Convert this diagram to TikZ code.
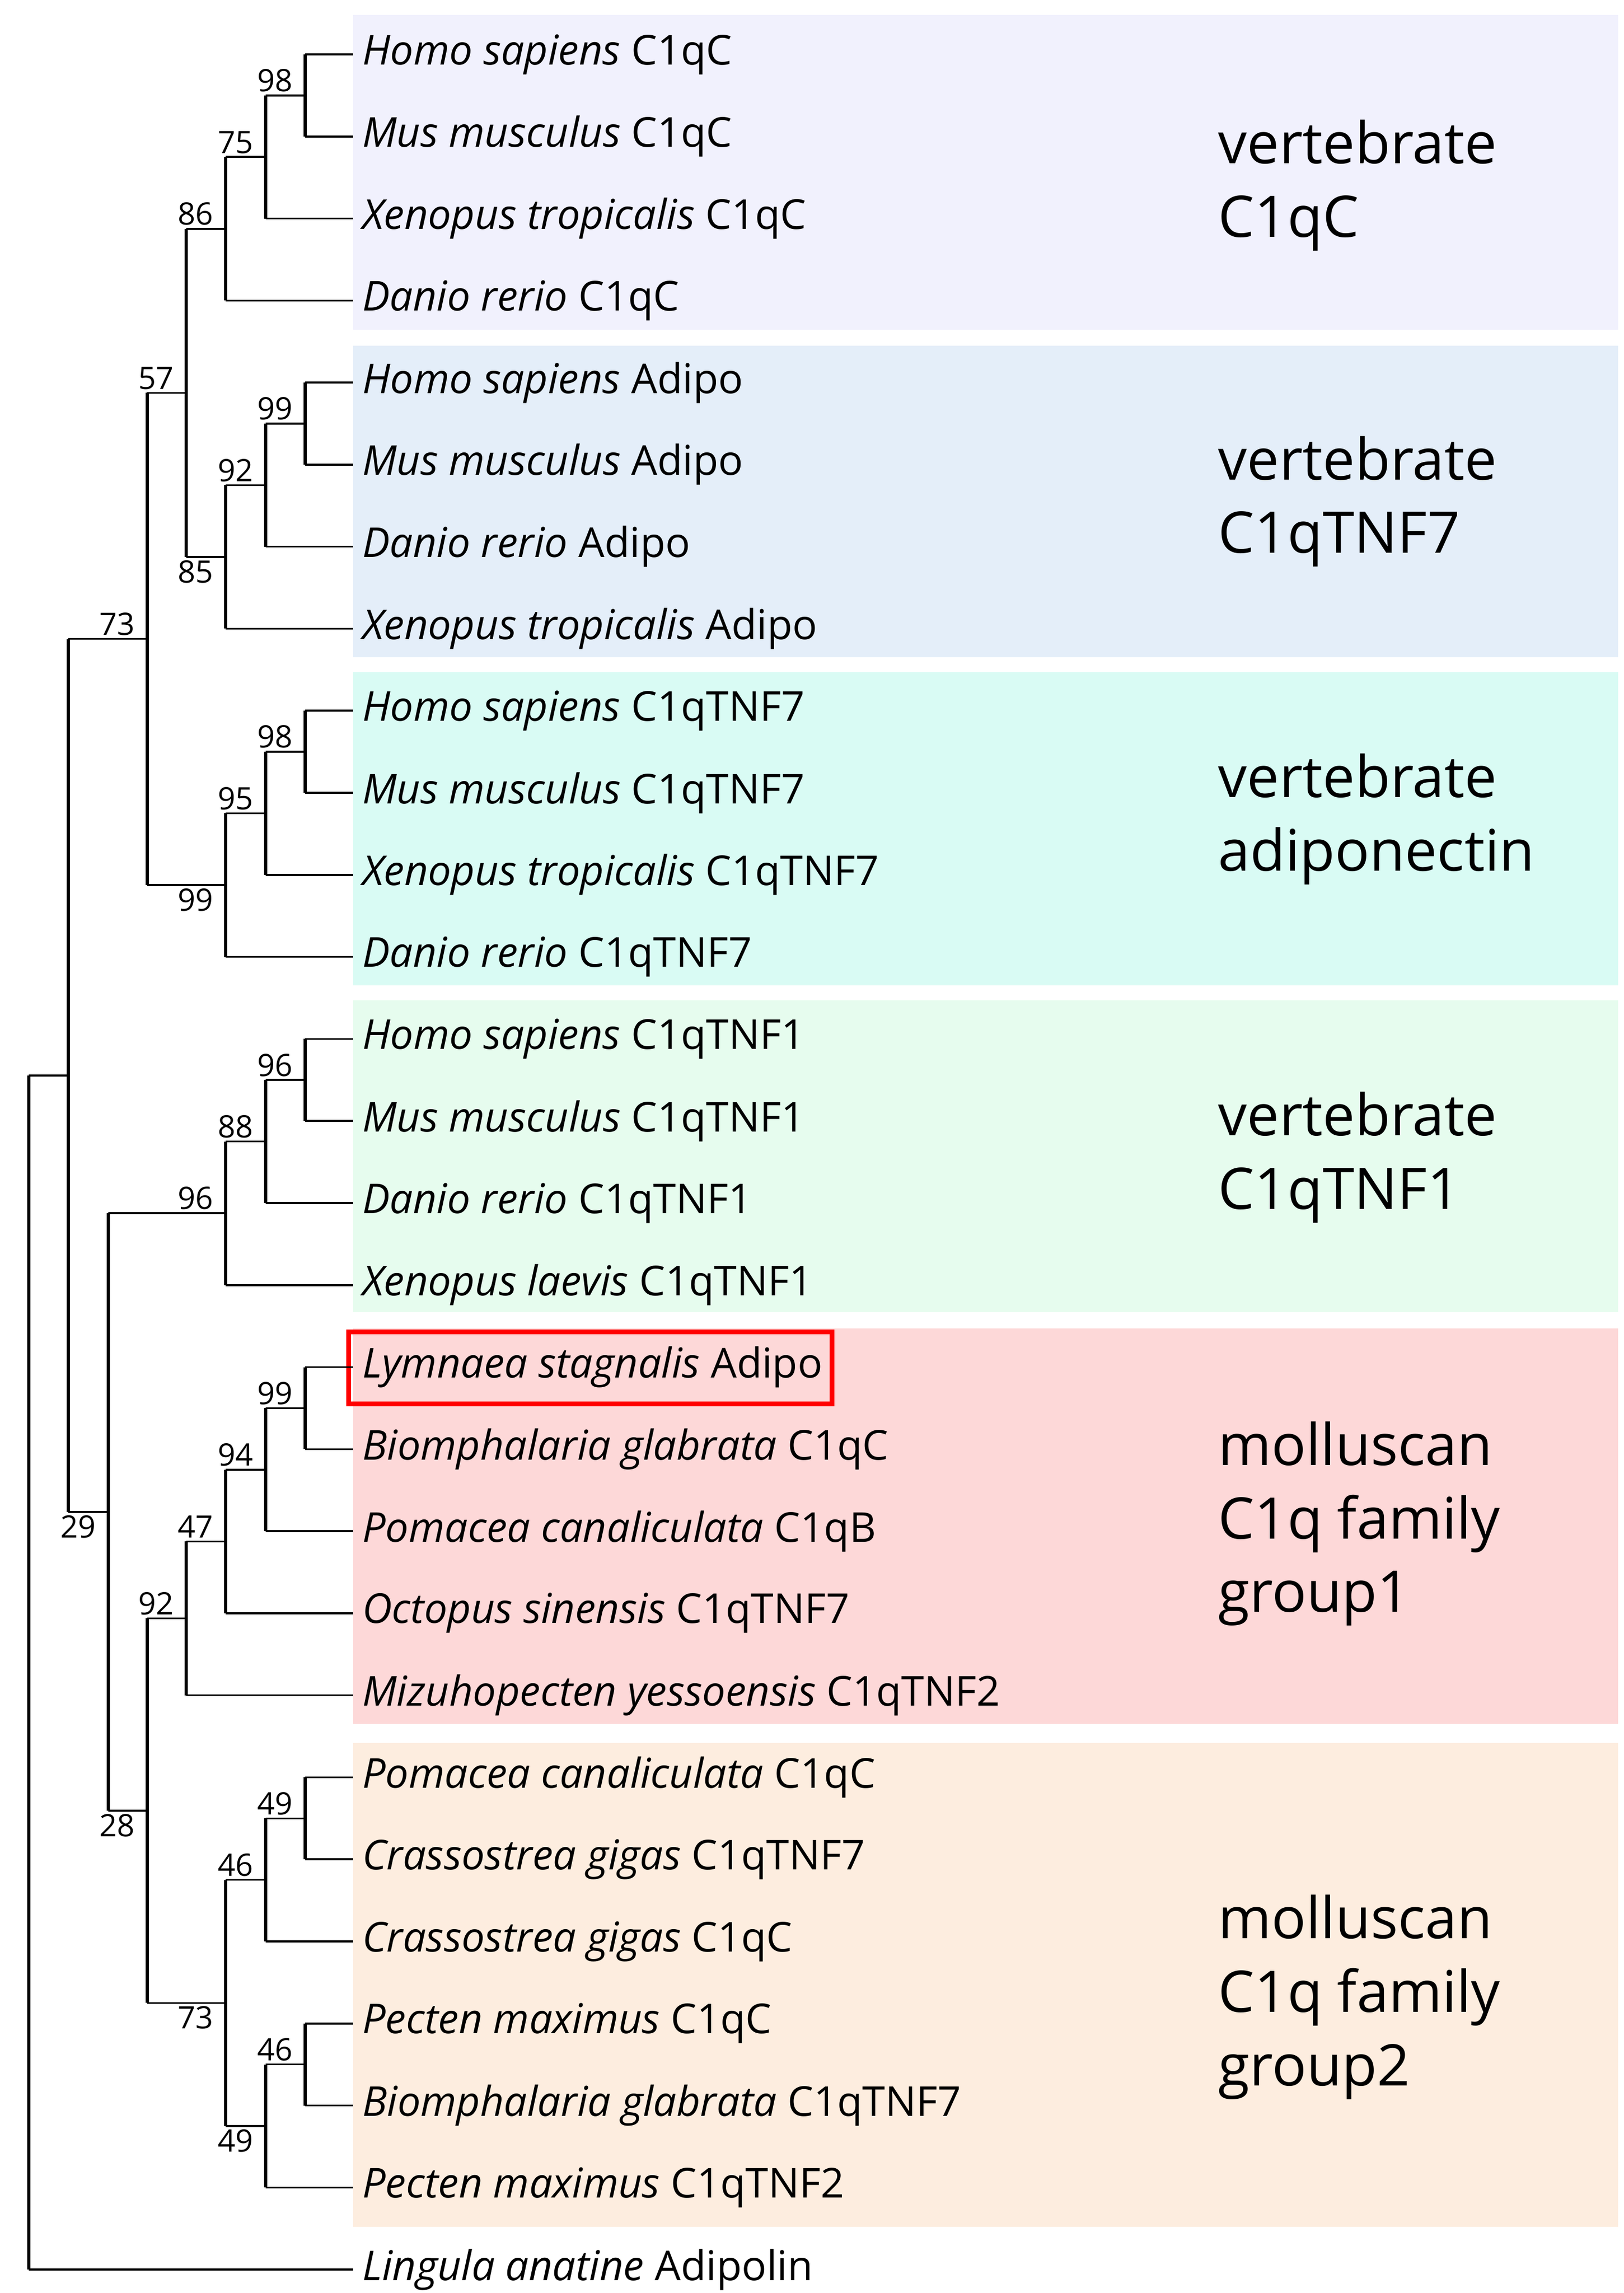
\documentclass[tikz,border=0pt]{standalone}
\usepackage{fontspec}
\setmainfont{Open Sans}
\usetikzlibrary{calc}
\definecolor{bgA}{HTML}{F1F1FD}
\definecolor{bgB}{HTML}{E4EEF9}
\definecolor{bgC}{HTML}{D9FBF4}
\definecolor{bgD}{HTML}{E6FCEE}
\definecolor{bgE}{HTML}{FDD8D8}
\definecolor{bgF}{HTML}{FDEDDF}
\tikzset{
  hbr/.style={line width=0.65pt},
  vbr/.style={line width=1.1pt},
  leaf/.style={anchor=west,inner sep=0pt,font=\fontsize{14}{16}\selectfont},
  boot/.style={inner sep=1pt,font=\fontsize{10.5}{12}\selectfont},
  grp/.style={anchor=west,align=left,inner sep=0pt,font=\fontsize{19.5}{25}\selectfont},
}
\newcommand{\leafnode}[3]{%
  \coordinate (#1) at (240,#2);
  \node[leaf] (#1t) at (246,#2) {#3};}
\newcommand{\inode}[6]{%
  \path ($(#3)!0.5!(#4)$) coordinate (#1m);
  \coordinate (#1) at (#1m -| #2,0);
  \draw[vbr] (#1 |- #3) -- (#1 |- #4);
  \draw[hbr] (#1 |- #3) -- (#3);
  \draw[hbr] (#1 |- #4) -- (#4);
  \node[boot,anchor=#6,xshift=-3pt] (#1l) at (#1) {#5};}
\begin{document}
\begin{tikzpicture}[x=0.5pt,y=-0.5pt]
\useasboundingbox (0,0) rectangle (1104,1559);
\fill[bgA] (240,10) rectangle (1100,224);
\fill[bgB] (240,235) rectangle (1100,447);
\fill[bgC] (240,457) rectangle (1100,670);
\fill[bgD] (240,680) rectangle (1100,892);
\fill[bgE] (240,903) rectangle (1100,1172);
\fill[bgF] (240,1185) rectangle (1100,1514);
\def\s{55.78}
\leafnode{L1}{37}{\emph{Homo sapiens} C1qC}
\leafnode{L2}{37+1*\s}{\emph{Mus musculus} C1qC}
\leafnode{L3}{37+2*\s}{\emph{Xenopus tropicalis} C1qC}
\leafnode{L4}{37+3*\s}{\emph{Danio rerio} C1qC}
\leafnode{L5}{37+4*\s}{\emph{Homo sapiens} Adipo}
\leafnode{L6}{37+5*\s}{\emph{Mus musculus} Adipo}
\leafnode{L7}{37+6*\s}{\emph{Danio rerio} Adipo}
\leafnode{L8}{37+7*\s}{\emph{Xenopus tropicalis} Adipo}
\leafnode{L9}{37+8*\s}{\emph{Homo sapiens} C1qTNF7}
\leafnode{L10}{37+9*\s}{\emph{Mus musculus} C1qTNF7}
\leafnode{L11}{37+10*\s}{\emph{Xenopus tropicalis} C1qTNF7}
\leafnode{L12}{37+11*\s}{\emph{Danio rerio} C1qTNF7}
\leafnode{L13}{37+12*\s}{\emph{Homo sapiens} C1qTNF1}
\leafnode{L14}{37+13*\s}{\emph{Mus musculus} C1qTNF1}
\leafnode{L15}{37+14*\s}{\emph{Danio rerio} C1qTNF1}
\leafnode{L16}{37+15*\s}{\emph{Xenopus laevis} C1qTNF1}
\leafnode{L17}{37+16*\s}{\emph{Lymnaea stagnalis} Adipo}
\leafnode{L18}{37+17*\s}{\emph{Biomphalaria glabrata} C1qC}
\leafnode{L19}{37+18*\s}{\emph{Pomacea canaliculata} C1qB}
\leafnode{L20}{37+19*\s}{\emph{Octopus sinensis} C1qTNF7}
\leafnode{L21}{37+20*\s}{\emph{Mizuhopecten yessoensis} C1qTNF2}
\leafnode{L22}{37+21*\s}{\emph{Pomacea canaliculata} C1qC}
\leafnode{L23}{37+22*\s}{\emph{Crassostrea gigas} C1qTNF7}
\leafnode{L24}{37+23*\s}{\emph{Crassostrea gigas} C1qC}
\leafnode{L25}{37+24*\s}{\emph{Pecten maximus} C1qC}
\leafnode{L26}{37+25*\s}{\emph{Biomphalaria glabrata} C1qTNF7}
\leafnode{L27}{37+26*\s}{\emph{Pecten maximus} C1qTNF2}
\leafnode{L28}{37+27*\s}{\emph{Lingula anatine} Adipolin}
% red box
\draw[red,line width=1.6pt] ($(L17t.west)+(-9,-24)$) rectangle ($(L17t.east)+(6,25)$);
% tree
\inode{a1}{207.5}{L1}{L2}{98}{south east}
\inode{a2}{180.5}{a1}{L3}{75}{south east}
\inode{a3}{153.5}{a2}{L4}{86}{south east}
\inode{b1}{207.5}{L5}{L6}{99}{south east}
\inode{b2}{180.5}{b1}{L7}{92}{south east}
\inode{b3}{153.5}{b2}{L8}{85}{north east}
\inode{ab}{126.5}{a3}{b3}{57}{south east}
\inode{c1}{207.5}{L9}{L10}{98}{south east}
\inode{c2}{180.5}{c1}{L11}{95}{south east}
\inode{c3}{153.5}{c2}{L12}{99}{north east}
\inode{abc}{100}{ab}{c3}{73}{south east}
\inode{d1}{207.5}{L13}{L14}{96}{south east}
\inode{d2}{180.5}{d1}{L15}{88}{south east}
\inode{d3}{153.5}{d2}{L16}{96}{south east}
\inode{e1}{207.5}{L17}{L18}{99}{south east}
\inode{e2}{180.5}{e1}{L19}{94}{south east}
\inode{e3}{153.5}{e2}{L20}{47}{south east}
\inode{e4}{126.5}{e3}{L21}{92}{south east}
\inode{f1}{207.5}{L22}{L23}{49}{south east}
\inode{f2}{180.5}{f1}{L24}{46}{south east}
\inode{g1}{207.5}{L25}{L26}{46}{south east}
\inode{g2}{180.5}{g1}{L27}{49}{north east}
\inode{fg}{153.5}{f2}{g2}{73}{north east}
\inode{ef}{100}{e4}{fg}{28}{north east}
\inode{def}{73.5}{d3}{ef}{29}{north east}
\inode{all}{46.5}{abc}{def}{}{south east}
\inode{root}{19.5}{all}{L28}{}{south east}
% group labels
\node[grp] (gA) at (828,126) {vertebrate\\C1qC};
\node[grp] (gB) at (828,341) {vertebrate\\C1qTNF7};
\node[grp] (gC) at (828,557) {vertebrate\\adiponectin};
\node[grp] (gD) at (828,787) {vertebrate\\C1qTNF1};
\node[grp] (gE) at (828,1036) {molluscan\\C1q family\\group1};
\node[grp] (gF) at (828,1358) {molluscan\\C1q family\\group2};
\end{tikzpicture}
\end{document}
